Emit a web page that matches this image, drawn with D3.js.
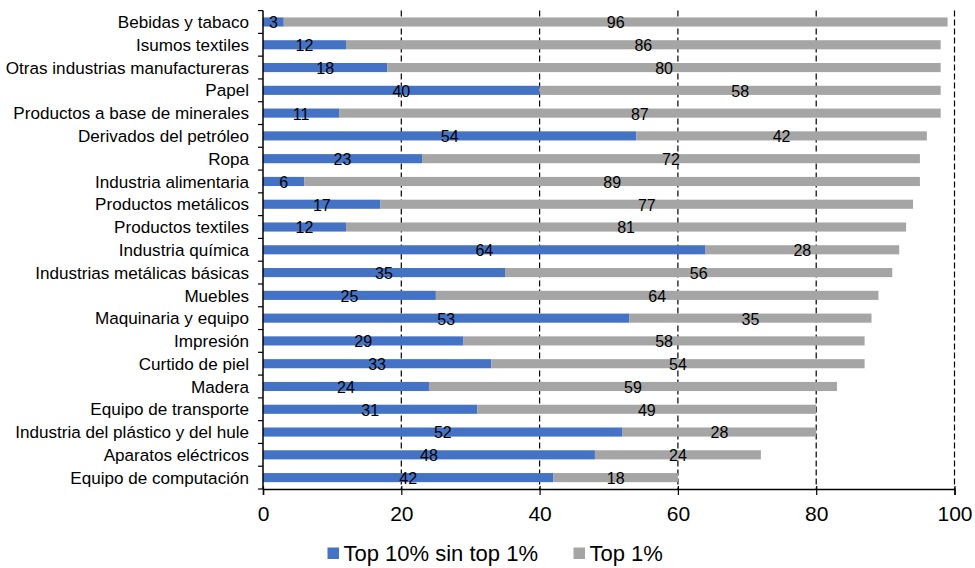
<!DOCTYPE html>
<html>
<head>
<meta charset="utf-8">
<script src="https://cdn.jsdelivr.net/npm/d3@7"></script>
<style>
  html, body { margin: 0; padding: 0; background: #fff; }
  svg { display: block; font-family: "Liberation Sans", Arial, sans-serif; }
</style>
</head>
<body>
<svg id="chart" width="975" height="568"></svg>
<script>
// Sectors, top to bottom
const categories = [
  "Bebidas y tabaco",
  "Isumos textiles",
  "Otras industrias manufactureras",
  "Papel",
  "Productos a base de minerales",
  "Derivados del petróleo",
  "Ropa",
  "Industria alimentaria",
  "Productos metálicos",
  "Productos textiles",
  "Industria química",
  "Industrias metálicas básicas",
  "Muebles",
  "Maquinaria y equipo",
  "Impresión",
  "Curtido de piel",
  "Madera",
  "Equipo de transporte",
  "Industria del plástico y del hule",
  "Aparatos eléctricos",
  "Equipo de computación"
];

// Share held by the top 10% excluding the top 1%
const top10sinTop1 = [3, 12, 18, 40, 11, 54, 23, 6, 17, 12, 64, 35, 25, 53, 29, 33, 24, 31, 52, 48, 42];
// Share held by the top 1%
const top1 = [96, 86, 80, 58, 87, 42, 72, 89, 77, 81, 28, 56, 64, 35, 58, 54, 59, 49, 28, 24, 18];

const seriesNames = ["Top 10% sin top 1%", "Top 1%"];
const seriesColors = ["#4472C4", "#A5A5A5"];
const xTicks = [0, 20, 40, 60, 80, 100];

const svg = d3.select("#chart");
const margin = { top: 10.6, right: 21, bottom: 79, left: 263 };
const width = 975, height = 568;

const x = d3.scaleLinear()
  .domain([0, 100])
  .range([margin.left, margin.left + 691.5]);

const y = d3.scaleBand()
  .domain(categories)
  .range([margin.top, height - margin.bottom])
  .paddingInner(0.6)
  .paddingOuter(0.3);

const rows = categories.map((c, i) => ({ cat: c, a: top10sinTop1[i], b: top1[i] }));

// Dashed vertical gridlines
svg.append("g")
  .selectAll("line")
  .data(xTicks.filter(d => d > 0))
  .join("line")
  .attr("x1", d => x(d)).attr("x2", d => x(d))
  .attr("y1", margin.top).attr("y2", height - margin.bottom)
  .attr("stroke", "#000")
  .attr("stroke-width", 1.2)
  .attr("stroke-dasharray", "6,3");

// Stacked bars
const stack = d3.stack().keys(["a", "b"]);
const layers = stack(rows);

const barGroups = svg.append("g")
  .selectAll("g")
  .data(layers)
  .join("g")
  .attr("fill", (d, i) => seriesColors[i]);

barGroups.selectAll("rect")
  .data(d => d)
  .join("rect")
  .attr("x", d => x(d[0]))
  .attr("width", d => x(d[1]) - x(d[0]))
  .attr("y", d => y(d.data.cat))
  .attr("height", y.bandwidth());

// Value labels centred in each segment
barGroups.selectAll("text")
  .data(d => d)
  .join("text")
  .attr("x", d => (x(d[0]) + x(d[1])) / 2)
  .attr("y", d => y(d.data.cat) + y.bandwidth() / 2)
  .attr("dy", "0.4em")
  .attr("text-anchor", "middle")
  .attr("fill", "#000")
  .attr("font-size", 16)
  .text(d => d[1] - d[0]);

// Left axis with ticks at band boundaries
const yAxisG = svg.append("g");
yAxisG.append("line")
  .attr("x1", x(0)).attr("x2", x(0))
  .attr("y1", margin.top).attr("y2", height - margin.bottom)
  .attr("stroke", "#000").attr("stroke-width", 1.5);
const step = y.step();
const boundaries = d3.range(categories.length + 1).map(i => y.range()[0] + i * step);
yAxisG.selectAll("line.tick")
  .data(boundaries)
  .join("line")
  .attr("class", "tick")
  .attr("x1", x(0) - 5).attr("x2", x(0))
  .attr("y1", d => d).attr("y2", d => d)
  .attr("stroke", "#000").attr("stroke-width", 1.2);
yAxisG.selectAll("text")
  .data(categories)
  .join("text")
  .attr("x", x(0) - 14)
  .attr("y", d => y(d) + y.bandwidth() / 2)
  .attr("dy", "0.36em")
  .attr("text-anchor", "end")
  .attr("font-size", 17.1)
  .attr("fill", "#000")
  .text(d => d);

// Bottom axis
const xAxis = d3.axisBottom(x)
  .tickValues(xTicks)
  .tickSize(6)
  .tickPadding(11);
const xAxisG = svg.append("g")
  .attr("transform", `translate(0,${height - margin.bottom})`)
  .call(xAxis);
xAxisG.select(".domain").attr("stroke", "#000").attr("stroke-width", 1.5);
xAxisG.selectAll(".tick line")
  .attr("y1", -3)
  .attr("stroke", "#000").attr("stroke-width", 1.2);
xAxisG.selectAll(".tick text")
  .attr("font-family", "Liberation Sans, Arial, sans-serif")
  .attr("font-size", 21)
  .attr("fill", "#000");

// Legend
const legendItems = [
  { name: seriesNames[0], color: seriesColors[0], x: 327.5 },
  { name: seriesNames[1], color: seriesColors[1], x: 573.5 }
];
const legend = svg.append("g").selectAll("g")
  .data(legendItems)
  .join("g")
  .attr("transform", d => `translate(${d.x},553.5)`);
legend.append("rect")
  .attr("x", 0).attr("y", -6)
  .attr("width", 11.5).attr("height", 11.5)
  .attr("fill", d => d.color);
legend.append("text")
  .attr("x", 16)
  .attr("y", 0)
  .attr("dy", "0.36em")
  .attr("font-size", 22)
  .attr("fill", "#000")
  .text(d => d.name);
</script>
</body>
</html>
